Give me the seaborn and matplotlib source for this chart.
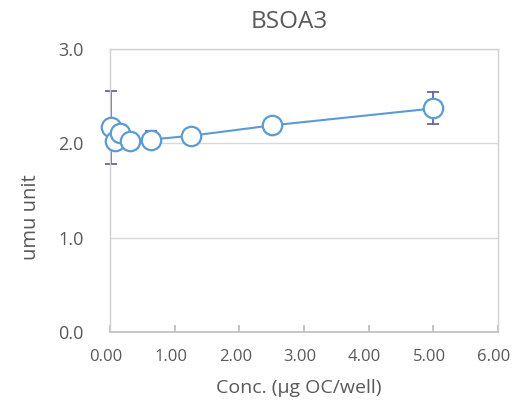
import matplotlib
matplotlib.use("Agg")
import matplotlib.pyplot as plt
import matplotlib.transforms as mtransforms
import seaborn as sns
import pandas as pd

conc = [0.02, 0.08, 0.16, 0.31, 0.63, 1.25, 2.50, 5.00]
umu = [2.17, 2.03, 2.11, 2.02, 2.04, 2.08, 2.19, 2.37]
err = [0.39, 0.05, 0.05, 0.04, 0.09, 0.04, 0.04, 0.17]

df = pd.DataFrame({"conc": conc, "umu": umu, "err": err})

sns.set_theme(style="white")
plt.rcParams['font.family'] = ['Open Sans', 'DejaVu Sans']

fig = plt.figure(figsize=(5.12, 4.03), dpi=100)
ax = fig.add_axes([110 / 512, 1 - 332 / 403, 388 / 512, 283 / 403])

blue = "#5B9BD5"
grey = "#595959"

eb = ax.errorbar(df["conc"], df["umu"], yerr=df["err"], fmt="none", ecolor="#5a5a8c",
                 elinewidth=1.2, capsize=4, capthick=1.2, zorder=2)
for art in eb.lines[1] + eb.lines[2]:
    art.set_clip_on(False)
sns.lineplot(data=df, x="conc", y="umu", ax=ax, color=blue, linewidth=1.5,
             marker="o", markersize=14, markerfacecolor="white",
             markeredgecolor=blue, markeredgewidth=1.6, zorder=3, sort=True,
             clip_on=False)

ax.set_xlim(0, 6)
ax.set_ylim(0, 3)
ax.set_xticks([0, 1, 2, 3, 4, 5, 6])
ax.set_xticklabels([f"{v:.2f}" for v in range(7)])
ax.set_yticks([0, 1, 2, 3])
ax.set_yticklabels([f"{v:.1f}" for v in range(4)])
ax.yaxis.grid(True, color="#d9d9d9", linewidth=1)
ax.set_axisbelow(True)

for side in ["top", "right", "left"]:
    ax.spines[side].set_color("#d0d0d0")
    ax.spines[side].set_linewidth(1)
ax.spines["bottom"].set_color("#bfbfbf")
ax.spines["bottom"].set_linewidth(1.2)

ax.tick_params(axis="x", direction="in", length=5, color="#bfbfbf", labelsize=12,
               labelcolor=grey, pad=12, bottom=True)
ax.tick_params(axis="y", length=0, labelsize=13, labelcolor=grey, pad=19)

# excel draws the x labels a few pixels left of the ticks
shift = mtransforms.ScaledTranslation(-4 / 100, 0, fig.dpi_scale_trans)
for lab in ax.get_xticklabels():
    lab.set_transform(lab.get_transform() + shift)

ax.set_xlabel("")
ax.set_ylabel("")
fig.text(289 / 512, 1 - 22 / 403, "BSOA3", fontsize=17.5, color=grey,
         ha="center", va="center")
fig.text(299 / 512, 1 - 388 / 403, "Conc. (μg OC/well)", fontsize=14, color=grey,
         ha="center", va="center")
fig.text(31 / 512, 1 - 217 / 403, "umu unit", fontsize=14.5, color=grey,
         ha="center", va="center", rotation=90)

fig.savefig("out.png", dpi=100)
